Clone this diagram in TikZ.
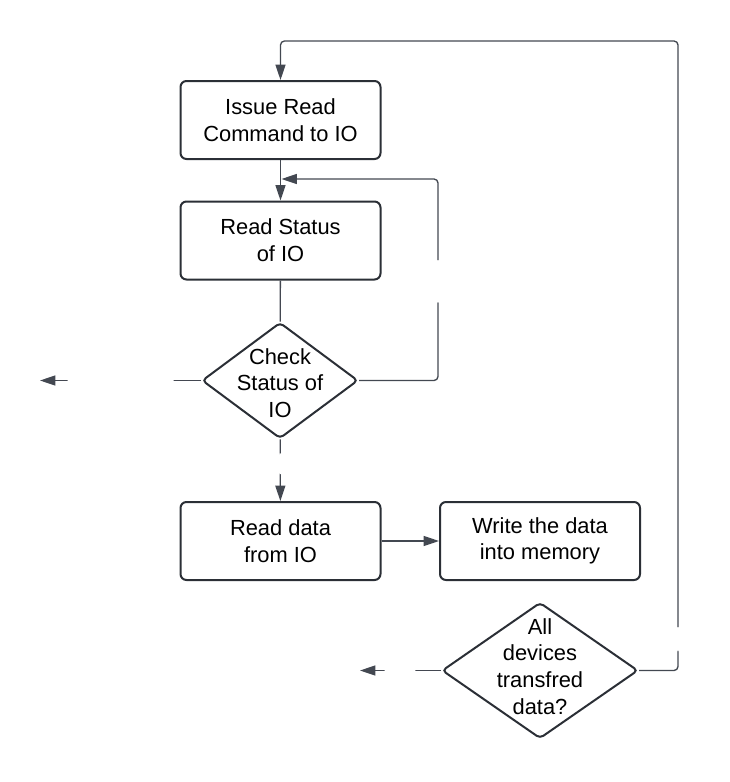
\documentclass[tikz,border=0pt]{standalone}
\usepackage{fontspec}
\setmainfont{Liberation Sans}
\usetikzlibrary{shapes.geometric,arrows.meta}
\definecolor{boxline}{HTML}{2B2F36}
\definecolor{connline}{HTML}{434851}

\begin{document}
\begin{tikzpicture}[x=0.75pt,y=-0.75pt,
   font=\fontsize{16.4}{20}\selectfont,
   box/.style={rectangle,draw=boxline,line width=1.5pt,rounded corners=4.5pt,
    minimum width=150pt,minimum height=58.5pt,align=center,inner sep=0pt},
   decision/.style={diamond,draw=boxline,line width=1.5pt,rounded corners=3pt,
    inner sep=0pt},
   line/.style={draw=connline,line width=1pt,rounded corners=3pt},
   arrow/.style={line,-{Triangle[length=11.5pt,width=7.5pt]}},
   gap/.style={fill=white,inner sep=0pt,minimum width=4pt,minimum height=4pt}
    ]
  \useasboundingbox (0,0) rectangle (730,782);

  % -- left column
  \node[box] at (280.5,120) (iss) {Issue Read\\Command to IO};
  \node[box] at (280.5,240.5) (rd) {Read Status\\of IO};
  \node[decision,minimum width=117pt,minimum height=87pt,
    label={[align=center,yshift=-2pt]center:{Check\\Status of\\IO}}] at (280,380.5) (chk) {};
  \node[box] at (280.5,541) (data) {Read data\\from IO};

  % -- right column
  \node[box] at (540,541) (mem) {Write the data\\into memory};
  \node[decision,minimum width=147pt,minimum height=102pt,
    label={[align=center,yshift=3pt]center:{All\\devices\\transfred\\data?}}] at (540,670.5) (done) {};

  \coordinate (join) at (281.5,179);
  \coordinate (loopA) at (438,179);
  \coordinate (loopB) at (678,41);
  \coordinate (outA) at (40,380.5);
  \coordinate (outB) at (360,670.5);

  % -- arrows
  \draw[arrow] (iss) -- (rd);
  \draw[line] (rd) -- (chk);
  \draw[arrow] (chk) -- node[gap,pos=0.395,minimum height=15.5pt]{} (data);
  \draw[arrow] (data) -- (mem);
  \draw[arrow] (chk.west) -- node[gap,pos=0.5,minimum width=79.5pt]{} (outA);
  \draw[arrow] (done.west) -- node[gap,pos=0.506,minimum width=23pt]{} (outB);

  % -- loops back
  \draw[arrow] (chk.east) -| node[gap,pos=0.746,minimum height=32pt]{} (loopA) -- (join);
  \draw[arrow] (done.east) -| node[gap,pos=0.525,minimum height=18pt]{} (loopB) -| (iss.north);

\end{tikzpicture}
\end{document}
